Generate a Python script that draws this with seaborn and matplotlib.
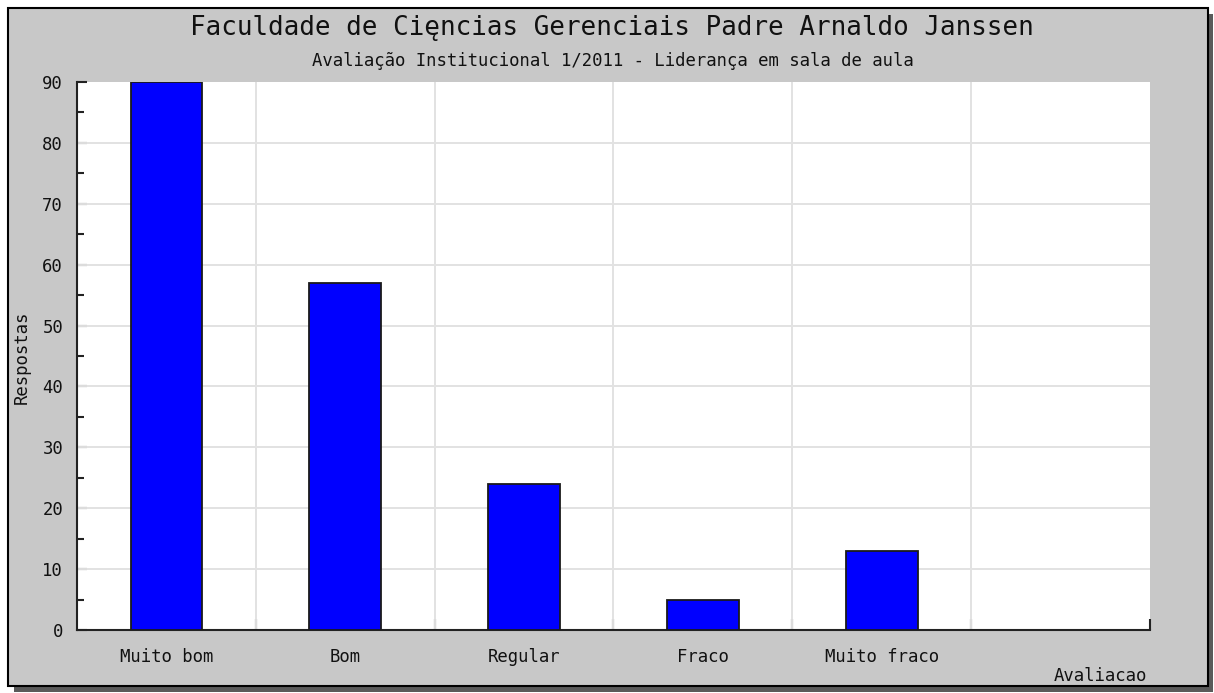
import matplotlib
matplotlib.use("Agg")
import matplotlib.pyplot as plt
from matplotlib.patches import Rectangle
from matplotlib.ticker import MultipleLocator, FixedLocator
import seaborn as sns
import pandas as pd

# Survey answers per rating
categorias = ["Muito bom", "Bom", "Regular", "Fraco", "Muito fraco"]
respostas = [90, 57, 24, 5, 13]

titulo = "Faculdade de Cięncias Gerenciais Padre Arnaldo Janssen"
subtitulo = "Avaliação Institucional 1/2011 - Liderança em sala de aula"

sns.set_theme(style="white")
plt.rcParams["font.family"] = ["DejaVu Sans Mono", "DejaVu Sans"]

W, H = 1214, 693
fig = plt.figure(figsize=(W / 100, H / 100), dpi=100, facecolor="white")

def px(x0, y0, x1, y1):
    return (x0 / W, 1 - y1 / H, (x1 - x0) / W, (y1 - y0) / H)

# drop shadow and gray panel with black border
sx, sy, sw, sh = px(14, 14, 1213, 692)
fig.patches.append(Rectangle((sx, sy), sw, sh, transform=fig.transFigure,
                             facecolor="#5a5a5a", edgecolor="none", zorder=-3))
bx, by, bw, bh = px(8, 8, 1208, 686)
fig.patches.append(Rectangle((bx, by), bw, bh, transform=fig.transFigure,
                             facecolor="#c8c8c8", edgecolor="black",
                             linewidth=1.5, zorder=-2))

ax = fig.add_axes(px(77, 82, 1150, 630))
ax.set_facecolor("white")

df = pd.DataFrame({"Avaliacao": categorias, "Respostas": respostas})
sns.barplot(data=df, x="Avaliacao", y="Respostas", ax=ax, color="#0000ff",
            saturation=1, width=0.4, edgecolor="#1a1a1a", linewidth=1.3,
            zorder=3)

ax.set_xlim(-0.5, 5.5)
ax.set_ylim(0, 90)

# grid
for yv in range(10, 90, 10):
    ax.axhline(yv, color="#e2e2e2", linewidth=1.4, zorder=1)
for xv in [0.5, 1.5, 2.5, 3.5, 4.5]:
    ax.axvline(xv, color="#e2e2e2", linewidth=1.4, zorder=1)

for s in ["top", "right"]:
    ax.spines[s].set_visible(False)
for s in ["left", "bottom"]:
    ax.spines[s].set_color("#222222")
    ax.spines[s].set_linewidth(1.5)

ax.yaxis.set_major_locator(MultipleLocator(10))
ax.yaxis.set_minor_locator(MultipleLocator(5))
ax.tick_params(axis="y", which="major", direction="in", length=7, width=1.5,
               color="#222222", left=True, labelsize=12.4, pad=10,
               labelcolor="#111111")
ax.tick_params(axis="y", which="minor", direction="in", length=5, width=1.5,
               color="#222222", left=True)

ax.set_xticks(range(len(categorias)))
ax.set_xticklabels(categorias)
ax.xaxis.set_minor_locator(FixedLocator([0.5, 1.5, 2.5, 3.5, 4.5, 5.5]))
ax.tick_params(axis="x", which="major", length=0, labelsize=12.4, pad=13,
               labelcolor="#111111")
ax.tick_params(axis="x", which="minor", direction="in", length=8, width=1.5,
               color="#222222", bottom=True)

ax.set_xlabel("")
ax.set_ylabel("")

fig.text(22 / W, 1 - 357 / H, "Respostas", rotation=90, ha="center",
         va="center", fontsize=12.4, color="#111111")
fig.text(1147 / W, 1 - 676 / H, "Avaliacao", ha="right", va="center",
         fontsize=12.4, color="#111111")
fig.text(612 / W, 1 - 28 / H, titulo, ha="center", va="center",
         fontsize=18.6, color="#111111")
fig.text(613 / W, 1 - 61 / H, subtitulo, ha="center", va="center",
         fontsize=12.4, color="#111111")

fig.savefig("out.png", dpi=100, facecolor="white")
